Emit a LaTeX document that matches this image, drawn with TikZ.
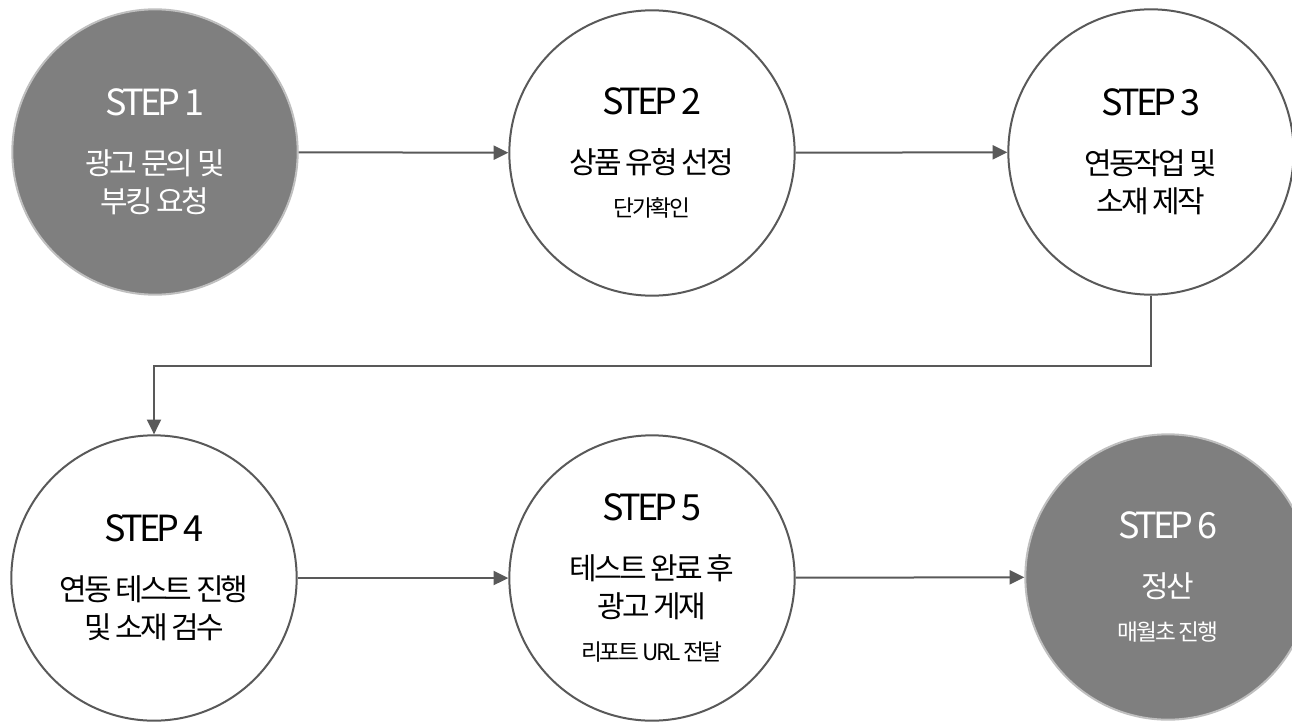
\documentclass[tikz,border=0pt]{standalone}
\usepackage{fontspec}
\setmainfont{Noto Sans CJK KR}[LetterSpace=-10]
\usetikzlibrary{arrows.meta}
\definecolor{linegray}{HTML}{595959}
\definecolor{darkfill}{HTML}{7F7F7F}
\definecolor{rimgray}{HTML}{BFBFBF}
\newcommand{\steptitle}[1]{{\fontsize{27}{27}\selectfont #1}\\[15pt]}
\newcommand{\stepnote}[1]{\\[3pt]{\fontsize{17}{17}\selectfont #1}}
\begin{document}
\begin{tikzpicture}[x=0.75pt,y=-0.75pt,
  stepnode/.style={circle,draw=linegray,line width=1.5pt,fill=white,minimum size=214pt,
    inner sep=0pt,align=center,font=\fontsize{22.5}{29}\selectfont},
  darkstep/.style={stepnode,draw=rimgray,fill=darkfill,text=white},
  flow/.style={draw=linegray,line width=1.5pt,-{Triangle[length=11pt,width=10.5pt]}}]
\useasboundingbox (0,0) rectangle (1292,721);
\node (S1) [darkstep] at (155,152) {\steptitle{STEP 1}광고 문의 및\\부킹 요청};
\node (S2) [stepnode] at (652,153) {\steptitle{STEP 2}상품 유형 선정\stepnote{단가확인}};
\node (S3) [stepnode] at (1151,152) {\steptitle{STEP 3}연동작업 및\\소재 제작};
\node (S4) [stepnode] at (154,578) {\steptitle{STEP 4}연동 테스트 진행\\및 소재 검수};
\node (S5) [stepnode] at (652,578) {\steptitle{STEP 5}테스트 완료 후\\광고 게재\stepnote{리포트 URL 전달}};
\node (S6) [darkstep] at (1168,577) {\steptitle{STEP 6}정산\stepnote{매월초 진행}};
\draw [flow] (S1) -- (S2);
\draw [flow] (S2) -- (S3);
\draw [flow] (S3.south) -- ++(0,70) -| (S4.north);
\draw [flow] (S4) -- (S5);
\draw [flow] (S5) -- (S6);
\end{tikzpicture}
\end{document}
